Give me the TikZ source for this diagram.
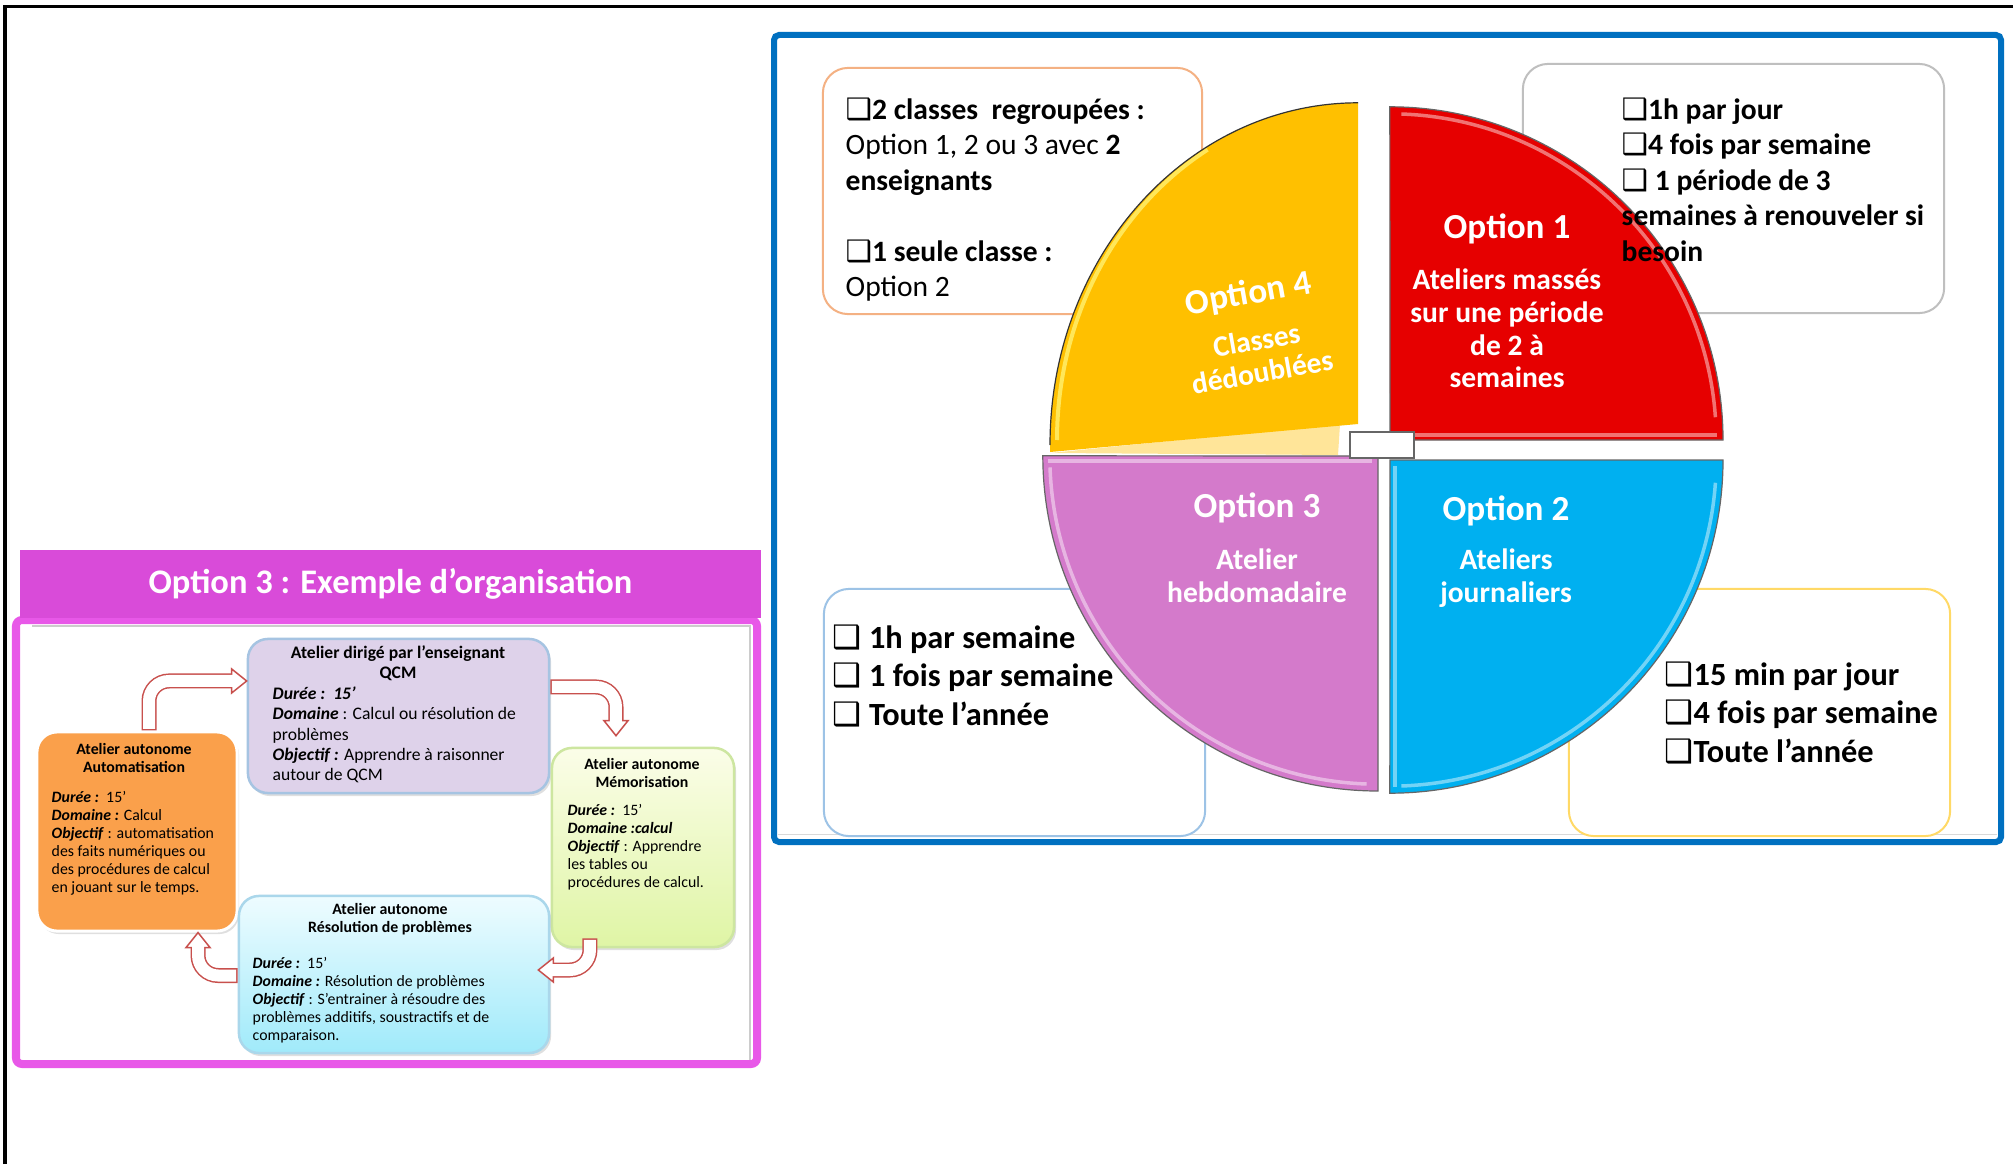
\documentclass[tikz,border=0pt]{standalone}
\usepackage{fontspec}
\setmainfont{Carlito}
\newfontfamily\symfont{DejaVu Sans}
\usetikzlibrary{shadows}
\definecolor{orgBlue} {RGB}{  0,112,192}
\definecolor{orgMag}  {RGB}{217, 75,217}
\definecolor{orgMagL} {RGB}{232, 88,232}
\definecolor{optRed}  {RGB}{230,  0,  0}
\definecolor{optYel}  {RGB}{255,192,  0}
\definecolor{optYelL} {RGB}{255,229,153}
\definecolor{optPur}  {RGB}{212,122,203}
\definecolor{optCya}  {RGB}{  0,176,240}
\definecolor{noteOr}  {RGB}{244,177,131}
\definecolor{noteGr}  {RGB}{191,191,191}
\definecolor{noteBl}  {RGB}{157,195,230}
\definecolor{noteYe}  {RGB}{255,217,102}
\definecolor{wsLav}   {RGB}{222,210,234}
\definecolor{wsLavB}  {RGB}{166,196,226}
\definecolor{wsOrg}   {RGB}{250,160, 75}
\definecolor{wsGrnT}  {RGB}{251,253,232}
\definecolor{wsGrnB}  {RGB}{223,245,165}
\definecolor{wsGrnD}  {RGB}{205,230,160}
\definecolor{wsCyaT}  {RGB}{238,252,255}
\definecolor{wsCyaB}  {RGB}{160,234,250}
\definecolor{wsCyaD}  {RGB}{170,215,235}
\definecolor{arRed}   {RGB}{200, 80, 77}
\newcommand{\chk}{{\symfont ❑}}
\newcommand{\bi}[1]{\textbf{\textit{#1}}}
\newcommand{\fsHead}{\fontsize{9.8}{11.8}\selectfont}
\newcommand{\fsOpt}{\fontsize{10}{12}\selectfont}
\newcommand{\fsOptSub}{\fontsize{8.4}{9.25}\selectfont}
\newcommand{\fsNote}{\fontsize{8.4}{10.1}\selectfont}
\newcommand{\fsNoteL}{\fontsize{9.2}{10.95}\selectfont}
\newcommand{\fsCard}{\fontsize{5}{5.8}\selectfont}
\newcommand{\fsCardS}{\fontsize{4.5}{5.1}\selectfont}

\begin{document}
\begin{tikzpicture}[x=0.01cm,y=-0.01cm,
  every node/.style={inner sep=0pt},
  note/.style={draw,fill=white,rounded corners=0.25cm,line width=0.02cm},
  card/.style={rounded corners=0.2cm,line width=0.025cm,
               drop shadow={shadow xshift=0.02cm,shadow yshift=-0.03cm,opacity=0.25}},
  quarter/.style={draw=black!60,line width=0.012cm},
  bevel/.style={draw=white,opacity=0.45,line width=0.035cm},
  qtitle/.style={text=white,font=\bfseries\fsOpt},
  qtext/.style={text=white,font=\bfseries\fsOptSub,align=center},
  notetxt/.style={font=\bfseries\fsNote,align=left,anchor=north west},
  cardhd/.style={font=\bfseries\fsCardS,align=center,anchor=north},
  cardtxt/.style={font=\fsCardS,align=left,anchor=north west},
  ushaft/.style={draw=arRed,line width=0.15cm,rounded corners=0.2cm},
  ushaftin/.style={draw=white,line width=0.12cm,rounded corners=0.2cm,
                   shorten <=0.015cm,shorten >=-0.03cm},
  uhead/.style={draw=arRed,fill=white,line width=0.015cm}
]
\useasboundingbox (0,0) rectangle (2013,1164);
\fill[white] (0,0) rectangle (2013,1164);
\draw[line width=0.03cm] (5,1164) -- (5,7) -- (2013,7);

% Right panel: the four options
\draw[orgBlue,line width=0.06cm,rounded corners=0.05cm] (774,35) rectangle (2001,842);
\draw[black!15,line width=0.01cm] (778,834) -- (1997,834);

\node[note,draw=noteOr,minimum width=3.79cm,minimum height=2.46cm] (grp)    at (1012.5,191) {};
\node[note,draw=noteGr,minimum width=4.21cm,minimum height=2.49cm] (o1note) at (1733.5,188.5) {};
\node[note,draw=noteBl,minimum width=3.81cm,minimum height=2.47cm] (o3note) at (1014.5,712.5) {};
\node[note,draw=noteYe,minimum width=3.81cm,minimum height=2.47cm] (o2note) at (1759.5,712.5) {};
\node[notetxt,font=\fsNote] (grptxt) at (845,97)
  {\textbf{\chk2 classes\ \ regroupées :}\\Option 1, 2 ou 3 avec \textbf{2}\\\textbf{enseignants}\\[10.1pt]
   \textbf{\chk1 seule classe :}\\Option 2};

% Option 4
\fill[optYelL] (1050,453) -- (1340,424) -- (1338,455) -- cycle;
\fill[optYel] (1050,445) arc[start angle=180,end angle=90,x radius=3.08cm,y radius=3.42cm]
  -- (1358,424) -- (1050,452) -- cycle;
\draw[yellow!50!white,opacity=0.7,line width=0.04cm]
  (1057,440) arc[start angle=180,end angle=120,x radius=3.01cm,y radius=3.35cm];
\draw[black!80,line width=0.012cm]
  (1050,445) arc[start angle=180,end angle=90,x radius=3.08cm,y radius=3.42cm];
% Option 3
\draw[quarter,fill=optPur] (1378,456) -- (1378,791) arc[start angle=270,end angle=180,radius=3.35cm] -- cycle;
\draw[bevel] (1378,456) ++(268:3.28cm) arc[start angle=268,end angle=182,radius=3.28cm];
\draw[bevel] (1048,461) -- (1372,461);
% Option 2
\draw[quarter,fill=optCya] (1390,460) -- (1723,460) arc[start angle=0,end angle=-90,radius=3.33cm] -- cycle;
\draw[bevel] (1390,460) ++(-4:3.26cm) arc[start angle=-4,end angle=-88,radius=3.26cm];
\draw[bevel] (1395,466) -- (1395,787);
% Option 1
\draw[quarter,fill=optRed] (1390,440) -- (1723,440) arc[start angle=0,end angle=90,radius=3.33cm] -- cycle;
\draw[bevel] (1390,440) ++(4:3.26cm) arc[start angle=4,end angle=88,radius=3.26cm];
\draw[bevel] (1396,435) -- (1717,435);
\node[draw=black!60,fill=white,line width=0.02cm,minimum width=0.64cm,minimum height=0.26cm] (hub) at (1382,445) {};

\node[qtitle] (o1t) at (1507,229) {Option 1};
\node[qtext]  (o1x) at (1507,328.5) {Ateliers massés\\sur une période\\de 2 à\\semaines};
\node[qtitle] (o2t) at (1506,511) {Option 2};
\node[qtext]  (o2x) at (1506,578) {Ateliers\\journaliers};
\node[qtitle] (o3t) at (1257,508) {Option 3};
\node[qtext]  (o3x) at (1257,576) {Atelier\\hebdomadaire};
\node[qtext,rotate=10] (o4) at (1255,331) {{\fsOpt Option 4}\\[4pt]Classes\\dédoublées};

\node[notetxt] (o1txt) at (1621,97)
  {\chk1h par jour\\\chk4 fois par semaine\\\chk\ 1 période de 3\\semaines à renouveler si\\besoin};
\node[notetxt,font=\bfseries\fsNoteL] (o3txt) at (832,624)
  {\chk\ 1h par semaine\\\chk\ 1 fois par semaine\\\chk\ Toute l’année};
\node[notetxt,font=\bfseries\fsNoteL] (o2txt) at (1664,661)
  {\chk15 min par jour\\\chk4 fois par semaine\\\chk Toute l’année};

% Left panel: option 3 example
\draw[orgMagL,line width=0.08cm,rounded corners=0.06cm] (16,620) rectangle (757,1064);
\draw[black!20,line width=0.015cm] (32,626) -- (750,626) -- (750,1060);
\node[fill=orgMag,minimum width=7.41cm,minimum height=0.68cm,text=white,font=\bfseries\fsHead]
  (hdr) at (390.5,584) {Option 3 : Exemple d’organisation};

\node[card,draw=wsLavB,fill=wsLav,minimum width=3.01cm,minimum height=1.54cm] (dir) at (398.5,716) {};
\node[card,draw=white,line width=0.03cm,fill=wsOrg,minimum width=2.0cm,minimum height=1.99cm] (auto) at (137,831.5) {};
\node[card,draw=wsGrnD,top color=wsGrnT,bottom color=wsGrnB,minimum width=1.82cm,minimum height=1.99cm] (memo) at (643,847.5) {};
\node[card,draw=wsCyaD,top color=wsCyaT,bottom color=wsCyaB,minimum width=3.10cm,minimum height=1.57cm] (reso) at (394,974.5) {};

% rotation arrows
\draw[ushaft] ([xshift=0.12cm]auto.north) |- ([xshift=-0.15cm,yshift=0.35cm]dir.west);
\draw[uhead] ([yshift=0.35cm]dir.west) -- ++(-0.15cm,0.12cm) -- ++(0,-0.24cm) -- cycle;
\draw[ushaftin] ([xshift=0.12cm]auto.north) |- ([xshift=-0.15cm,yshift=0.35cm]dir.west);

\draw[ushaft] ([yshift=0.29cm]dir.east) -| ([xshift=-0.27cm,yshift=0.26cm]memo.north);
\draw[uhead] ([xshift=-0.27cm,yshift=0.11cm]memo.north) -- ++(-0.12cm,0.15cm) -- ++(0.24cm,0) -- cycle;
\draw[ushaftin] ([yshift=0.29cm]dir.east) -| ([xshift=-0.27cm,yshift=0.26cm]memo.north);

\draw[ushaft] ([xshift=-0.53cm,yshift=0.1cm]memo.south) |- ([xshift=0.03cm,yshift=0.045cm]reso.east);
\draw[uhead] ([xshift=-0.12cm,yshift=0.045cm]reso.east) -- ++(0.15cm,0.12cm) -- ++(0,-0.24cm) -- cycle;
\draw[ushaftin] ([xshift=-0.53cm,yshift=0.1cm]memo.south) |- ([xshift=0.03cm,yshift=0.045cm]reso.east);

\draw[ushaft] ([yshift=-0.01cm]reso.west) -| ([xshift=0.61cm,yshift=-0.15cm]auto.south);
\draw[uhead] ([xshift=0.61cm]auto.south) -- ++(-0.12cm,-0.15cm) -- ++(0.24cm,0) -- cycle;
\draw[ushaftin] ([yshift=-0.01cm]reso.west) -| ([xshift=0.61cm,yshift=-0.15cm]auto.south);

% card texts
\node[cardhd,font=\bfseries\fsCard] (dirhd) at (398,645) {Atelier dirigé par l’enseignant\\QCM};
\node[cardtxt,font=\fsCard] (dirtx) at (272,686)
  {\bi{Durée :\ \ 15’}\\\bi{Domaine} : Calcul ou résolution de\\problèmes\\\bi{Objectif :} Apprendre à raisonner\\autour de QCM};
\node[cardhd] (autohd) at (134,743) {Atelier autonome\\Automatisation};
\node[cardtxt] (autotx) at (51,791)
  {\bi{Durée :}\ \ 15’\\\bi{Domaine :} Calcul\\\bi{Objectif} : automatisation\\des faits numériques ou\\des procédures de calcul\\en jouant sur le temps.};
\node[cardhd] (memohd) at (642,758) {Atelier autonome\\Mémorisation};
\node[cardtxt] (memotx) at (567,804)
  {\bi{Durée :}\ \ 15’\\\bi{Domaine :calcul}\\\bi{Objectif} : Apprendre\\les tables ou\\procédures de calcul.};
\node[cardhd] (resohd) at (390,903) {Atelier autonome\\Résolution de problèmes};
\node[cardtxt] (resotx) at (252,957)
  {\bi{Durée :}\ \ 15’\\\bi{Domaine :} Résolution de problèmes\\\bi{Objectif} : S’entrainer à résoudre des\\problèmes additifs, soustractifs et de\\comparaison.};
\end{tikzpicture}
\end{document}
